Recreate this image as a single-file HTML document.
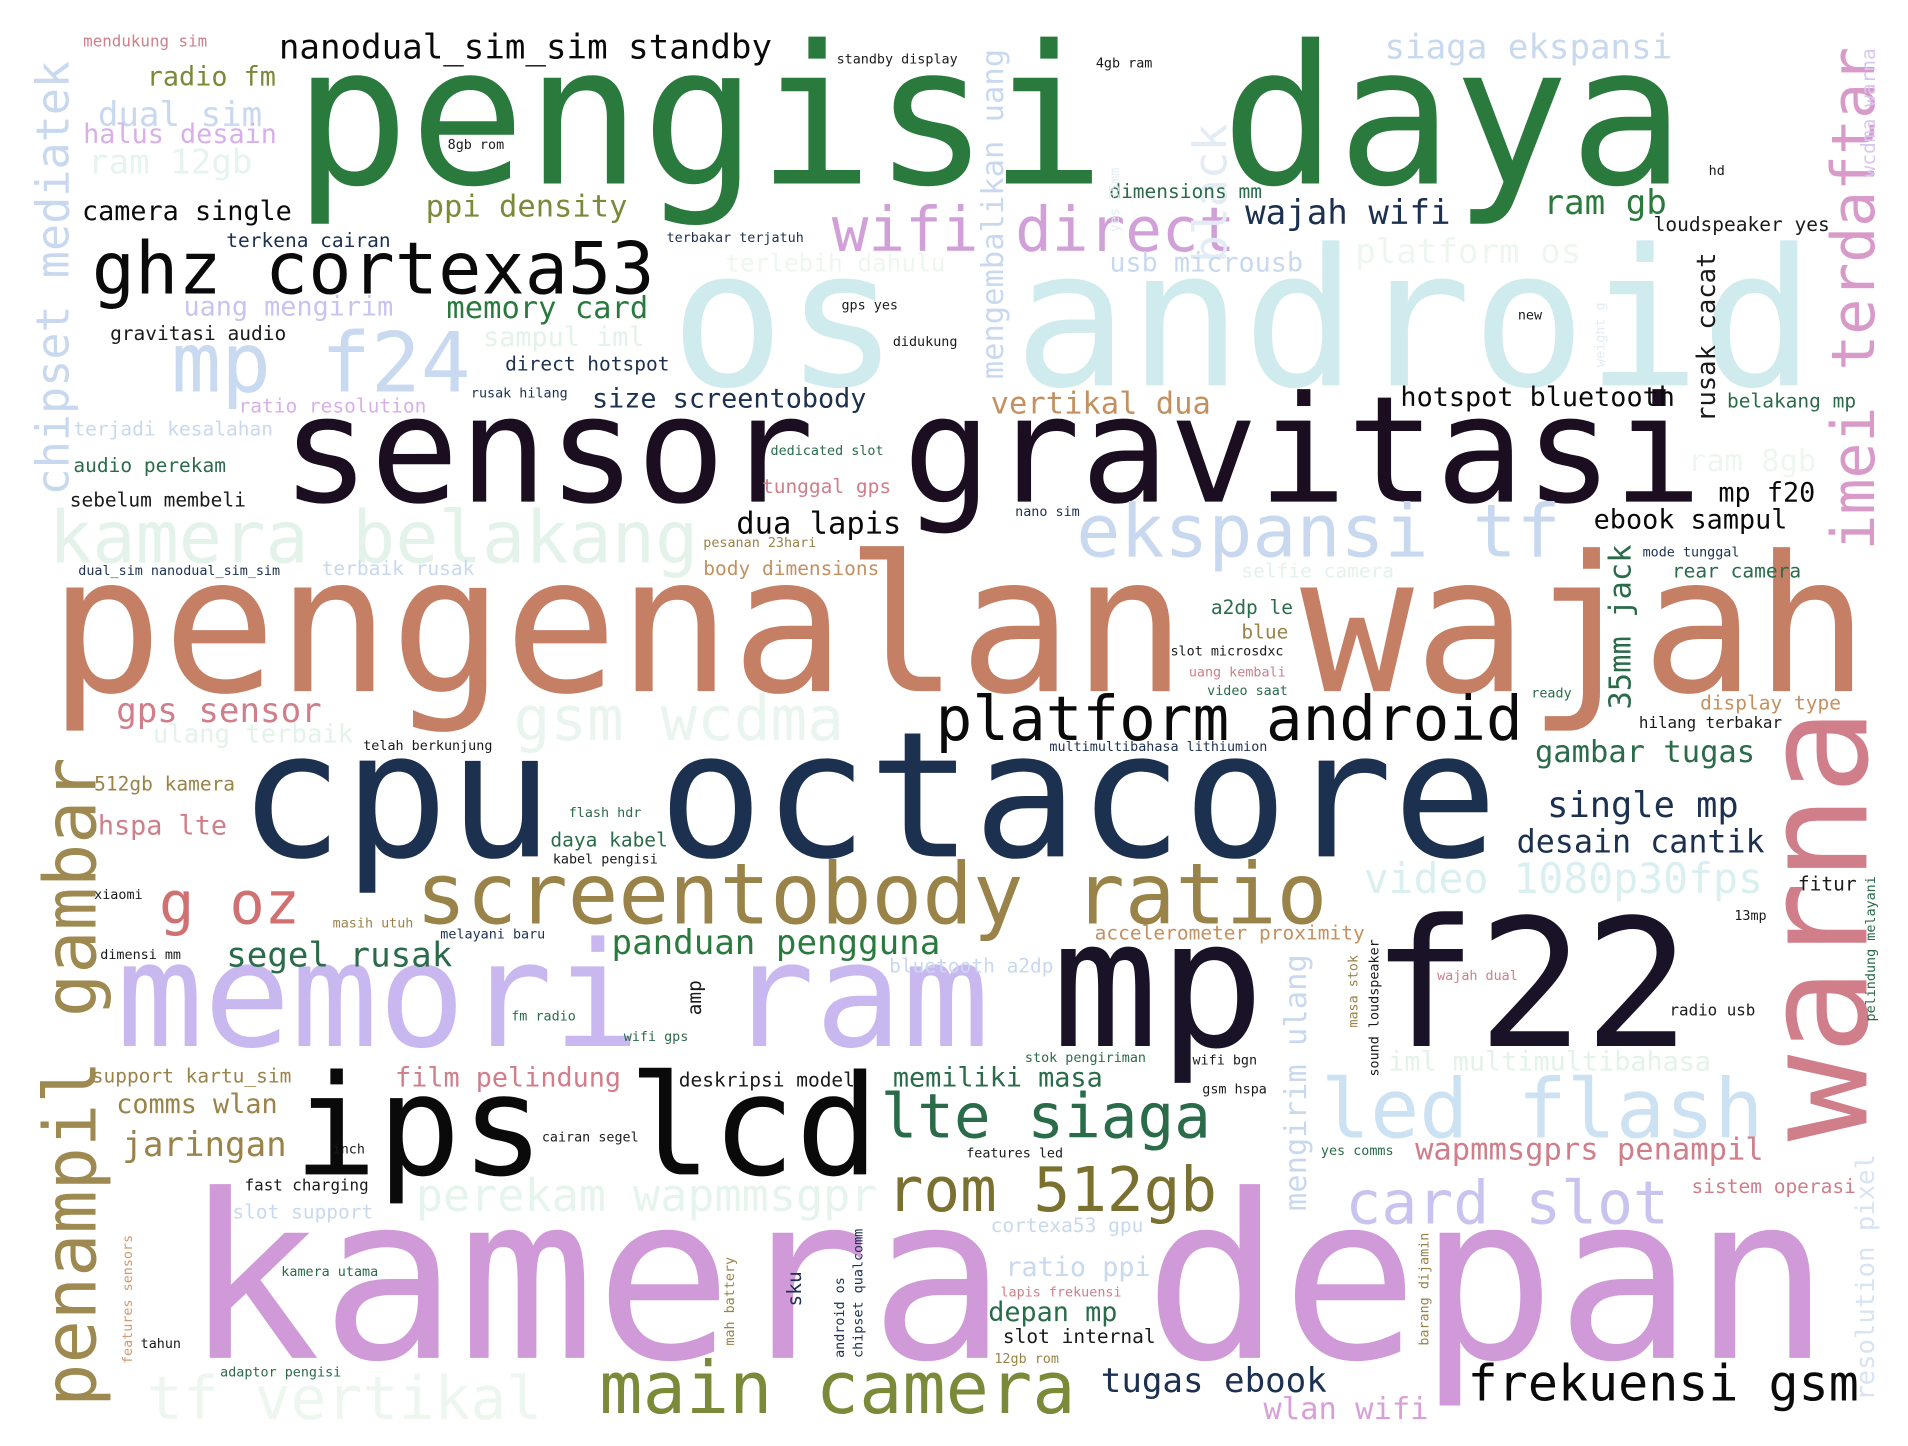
<!DOCTYPE html>
<html><head><meta charset="utf-8"><style>
html,body{margin:0;padding:0;background:#fff;}
svg{display:block;}
text{font-family:"DejaVu Sans Mono","Liberation Mono",monospace;}
</style></head><body>
<svg width="1908" height="1446" viewBox="0 0 1560 1182" preserveAspectRatio="none" xmlns="http://www.w3.org/2000/svg">
<rect width="1560" height="1182" fill="#fff"/>
<g id="words"></g>
</svg>
<script>
const words=[
["pengisi daya",240,150,158,"#2a7a3e",0],
["os android",548,315,156,"#d0ebee",0],
["sensor gravitasi",230,410,121,"#1a0e20",0],
["pengenalan wajah",40,565,155,"#c47f65",0],
["cpu octacore",195,700,143,"#1c3050",0],
["memori ram",95,855,119,"#c9b8ef",0],
["mp f22",860,855,145,"#1a1226",0],
["ips lcd",240,960,114,"#0a0a0a",0],
["kamera depan",150,1110,187,"#d09ad8",0],
["warna",1526,933,118,"#d07e8a",1],
["penampil gambar",78,1150,59,"#9e8a50",1],
["chipset mediatek",56,405,37,"#c8d9ef",1],
["imei terdaftar",1532,450,49,"#d89ac8",1],
["ghz cortexa53",75,240,59,"#0a0a0a",0],
["mp f24",140,320,68,"#c8d9f0",0],
["kamera belakang",40,460,59,"#e3f3ea",0],
["screentobody ratio",340,755,69,"#9a8348",0],
["g oz",130,755,48,"#d07070",0],
["platform android",765,605,50,"#0a0a0a",0],
["wifi direct",680,205,50,"#d2a0d8",0],
["ekspansi tf",880,455,60,"#c8d8ef",0],
["led flash",1080,930,67,"#cce2f3",0],
["lte siaga",720,930,50,"#2a6b4a",0],
["rom 512gb",725,990,50,"#7a7030",0],
["card slot",1100,1000,49,"#c8c4ef",0],
["main camera",490,1155,59,"#7a8a38",0],
["tf vertikal",120,1160,49,"#eef6f0",0],
["frekuensi gsm",1200,1145,41,"#0a0a0a",0],
["perekam wapmmsgpr",340,990,37,"#e6f4ee",0],
["gsm wcdma",420,605,50,"#eaf5f0",0],
["video 1080p30fps",1115,730,34,"#daeff0",0],
["single mp",1265,668,29,"#1c3050",0],
["desain cantik",1240,697,26,"#1c3050",0],
["gambar tugas",1255,623,25,"#2a6b4a",0],
["wajah wifi",1018,183,28,"#1c3050",0],
["ram gb",1262,175,28,"#2a7a3e",0],
["siaga ekspansi",1132,48,28,"#c8d9ef",0],
["nanodual_sim_sim standby",228,48,28,"#0a0a0a",0],
["dual sim",80,103,28,"#c8d9ef",0],
["halus desain",68,117,22,"#d8b0e8",0],
["radio fm",120,70,22,"#7a8a38",0],
["ram 12gb",72,142,28,"#e6f4ee",0],
["camera single",67,180,22,"#0a0a0a",0],
["ppi density",348,177,25,"#7a8a38",0],
["memory card",365,260,25,"#2a7a3e",0],
["uang mengirim",150,258,22,"#c8c4ef",0],
["gravitasi audio",90,278,16,"#1a1a1a",0],
["direct hotspot",413,303,16,"#1c3050",0],
["size screentobody",484,333,22,"#1c3050",0],
["vertikal dua",810,338,25,"#c49060",0],
["hotspot bluetooth",1145,332,22,"#0a0a0a",0],
["rusak cacat",1402,345,21,"#1a1a1a",1],
["mp f20",1405,410,22,"#0a0a0a",0],
["ebook sampul",1303,432,22,"#0a0a0a",0],
["dua lapis",602,436,25,"#0a0a0a",0],
["35mm jack",1333,580,25,"#2a6b4a",1],
["gps sensor",95,590,28,"#d07e8a",0],
["ulang terbaik",125,607,21,"#e3f3ea",0],
["hspa lte",80,682,22,"#d07e8a",0],
["segel rusak",185,790,28,"#2a6b4a",0],
["panduan pengguna",500,780,28,"#2a7a3e",0],
["film pelindung",323,888,22,"#d07e8a",0],
["deskripsi model",555,888,16,"#1a1a1a",0],
["memiliki masa",730,888,22,"#2a6b4a",0],
["jaringan",100,945,28,"#9a8348",0],
["comms wlan",95,910,22,"#9a8348",0],
["support kartu_sim",75,885,16,"#9a8348",0],
["wapmmsgprs penampil",1157,948,25,"#d07e8a",0],
["iml multimultibahasa",1135,875,22,"#e3f3ea",0],
["mengirim ulang",1068,990,25,"#c8d9ef",1],
["tugas ebook",900,1138,28,"#1c3050",0],
["wlan wifi",1033,1160,25,"#d8a0d8",0],
["depan mp",808,1080,22,"#2a6b4a",0],
["slot internal",820,1098,16,"#1a1a1a",0],
["ratio ppi",822,1043,22,"#c8d9ef",0],
["accelerometer proximity",895,768,16,"#c49060",0],
["mengembalikan uang",820,310,25,"#c8d9ef",1],
["black",1003,215,38,"#e3ecf5",1],
["wcdma warna",1533,145,16,"#d8c8ef",1],
["resolution pixel",1532,1145,21,"#d8e4f3",1],
["terbaik rusak",263,470,16,"#c8d9ef",0],
["ratio resolution",195,337,16,"#d8b0e8",0],
["sampul iml",395,283,22,"#e3f3ea",0],
["terjadi kesalahan",60,356,16,"#c8d9ef",0],
["audio perekam",60,386,16,"#2a6b4a",0],
["sebelum membeli",57,414,16,"#1a1a1a",0],
["platform os",1108,215,28,"#eef6f0",0],
["terlebih dahulu",593,222,20,"#eef6f0",0],
["usb microusb",907,222,22,"#c8d9ef",0],
["dimensions mm",907,162,16,"#2a6b4a",0],
["loudspeaker yes",1352,189,16,"#1a1a1a",0],
["belakang mp",1412,333,16,"#2a6b4a",0],
["rear camera",1367,472,16,"#2a6b4a",0],
["selfie camera",1015,472,16,"#e3f3ea",0],
["display type",1390,580,16,"#c49060",0],
["ram 8gb",1380,385,25,"#eef6f0",0],
["fitur",1470,728,16,"#1a1a1a",0],
["radio usb",1365,830,13,"#1a1a1a",0],
["sistem operasi",1383,975,16,"#d07e8a",0],
["blue",1015,522,16,"#9a8348",0],
["a2dp le",990,502,16,"#2a6b4a",0],
["bluetooth a2dp",727,795,16,"#c8d9ef",0],
["body dimensions",575,470,16,"#c49060",0],
["tunggal gps",623,403,16,"#d07e8a",0],
["512gb kamera",77,646,16,"#9a8348",0],
["daya kabel",450,692,16,"#2a6b4a",0],
["amp",573,830,16,"#1a1a1a",1],
["cortexa53 gpu",810,1007,16,"#c8d9ef",0],
["slot support",190,996,16,"#c8d9ef",0],
["fast charging",200,973,13,"#1a1a1a",0],
["mendukung sim",68,38,13,"#d07e8a",0],
["standby display",684,52,11,"#1a1a1a",0],
["4gb ram",896,55,11,"#1a1a1a",0],
["8gb rom",366,122,11,"#1a1a1a",0],
["terkena cairan",185,202,16,"#1c3050",0],
["terbakar terjatuh",545,198,11,"#1c3050",0],
["dedicated slot",630,372,11,"#2a6b4a",0],
["rusak hilang",385,325,11,"#1c3050",0],
["gps yes",688,253,11,"#1a1a1a",0],
["didukung",730,283,11,"#1a1a1a",0],
["pesanan 23hari",575,447,11,"#9a8348",0],
["dual_sim nanodual_sim_sim",64,470,11,"#1c3050",0],
["telah berkunjung",297,613,11,"#1a1a1a",0],
["multimultibahasa lithiumion",858,614,11,"#1c3050",0],
["hilang terbakar",1340,595,13,"#1a1a1a",0],
["mode tunggal",1343,455,11,"#1c3050",0],
["nano sim",830,422,11,"#1c3050",0],
["slot microsdxc",957,536,11,"#1a1a1a",0],
["video saat",987,568,11,"#2a6b4a",0],
["uang kembali",972,553,11,"#d07e8a",0],
["ready",1252,570,11,"#2a6b4a",0],
["flash hdr",465,668,11,"#2a6b4a",0],
["kabel pengisi",452,706,11,"#1a1a1a",0],
["xiaomi",77,735,11,"#1a1a1a",0],
["masih utuh",272,758,11,"#9a8348",0],
["melayani baru",360,767,11,"#1c3050",0],
["dimensi mm",82,784,11,"#1a1a1a",0],
["fm radio",418,834,11,"#2a6b4a",0],
["wifi gps",510,851,11,"#2a6b4a",0],
["cairan segel",443,933,11,"#1a1a1a",0],
["inch",272,943,11,"#1a1a1a",0],
["features led",790,946,11,"#1a1a1a",0],
["stok pengiriman",838,868,11,"#2a6b4a",0],
["wifi bgn",975,870,11,"#1a1a1a",0],
["gsm hspa",983,894,11,"#1a1a1a",0],
["yes comms",1080,944,11,"#2a6b4a",0],
["kamera utama",230,1043,11,"#2a6b4a",0],
["tahun",115,1102,11,"#1a1a1a",0],
["adaptor pengisi",180,1125,11,"#2a6b4a",0],
["12gb rom",813,1114,11,"#9a8348",0],
["lapis frekuensi",818,1060,11,"#d07e8a",0],
["13mp",1418,752,11,"#1a1a1a",0],
["wajah dual",1175,801,11,"#d07e8a",0],
["hd",1397,143,11,"#1a1a1a",0],
["new",1241,261,11,"#1a1a1a",0],
["sound loudspeaker",1127,880,11,"#1a1a1a",1],
["masa stok",1110,840,11,"#9a8348",1],
["sku",655,1068,16,"#1c3050",1],
["mah battery",600,1100,11,"#9a8348",1],
["android os",690,1110,11,"#1c3050",1],
["chipset qualcomm",705,1110,11,"#1c3050",1],
["barang dijamin",1168,1100,11,"#9a8348",1],
["pelindung melayani",1533,835,11,"#2a6b4a",1],
["features sensors",108,1115,11,"#d09a70",1],
["weight g",1312,300,11,"#e3ecf5",1],
["yes 35mm",915,190,11,"#e3ecf5",1]
];
const g=document.getElementById('words');
const NS='http://www.w3.org/2000/svg';
for(const w of words){
  const t=document.createElementNS(NS,'text');
  
  
  t.setAttribute('font-size',w[3]);
  t.setAttribute('fill',w[4]);
  if(w[5]){t.setAttribute('transform','translate('+w[1]+','+w[2]+') rotate(-90)');t.setAttribute('x',0);t.setAttribute('y',0);}
  else{t.setAttribute('x',w[1]);t.setAttribute('y',w[2]);}
  t.setAttribute('textLength',(w[0].length*0.6*w[3]).toFixed(1));
  t.setAttribute('lengthAdjust','spacingAndGlyphs');
  t.textContent=w[0];
  g.appendChild(t);
}
</script>
</body></html>
